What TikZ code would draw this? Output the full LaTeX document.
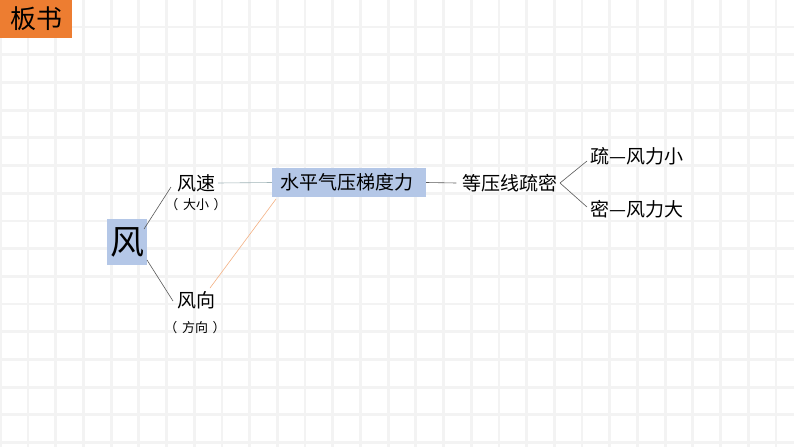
\documentclass[tikz,border=0pt]{standalone}
\usepackage{fontspec}
\usetikzlibrary{calc}
\setmainfont{Noto Sans CJK SC}
\definecolor{gridc}{HTML}{F3F3F3}
\definecolor{boxblue}{HTML}{B4C7E7}
\definecolor{orng}{HTML}{ED7D31}
\definecolor{lnk}{HTML}{595959}
\definecolor{lnkb}{HTML}{A0B4B8}
\definecolor{lnko}{HTML}{F4B183}
\tikzset{
  txt/.style={inner sep=0pt, font=\fontsize{19}{19}\selectfont},
  small/.style={inner sep=0pt, font=\fontsize{13}{13}\selectfont},
  bluebox/.style={fill=boxblue, inner sep=0pt},
  conn/.style={draw=lnk, line width=0.6pt},
}
\begin{document}
\begin{tikzpicture}[x=1pt,y=-1pt]
\fill[white] (0,0) rectangle (794,447);
\useasboundingbox (0,0) rectangle (794,447);
% grid
\foreach \k in {0,...,28} {\draw[gridc, line width=2.8pt] ({0.3+27.7*\k},0) -- ({0.3+27.7*\k},447);}
\foreach \k in {0,...,15} {\draw[gridc, line width=2.8pt] (0,{27+27.7*\k}) -- (794,{27+27.7*\k});}
% title
\node[fill=orng, minimum width=72pt, minimum height=38pt, inner sep=0pt, anchor=north west] (title) at (0,0) {};
\node[inner sep=0pt, font=\fontsize{26}{26}\selectfont] (titletxt) at (36,19) {板书};
% wind
\node[bluebox, minimum width=40pt, minimum height=46pt] (feng) at (127,242) {};
\node[inner sep=0pt, font=\fontsize{34}{34}\selectfont] (fengtxt) at (127,242) {风};
\node[txt] (fs) at (196,183) {风速};
\node[small] (fsd) at (196,205) {（\hspace{0.35em}大小\hspace{0.35em}）};
\node[txt] (fx) at (196,300) {风向};
\node[small] (fxd) at (195,328) {（\hspace{0.35em}方向\hspace{0.35em}）};
\node[bluebox, minimum width=154pt, minimum height=29pt] (sp) at (349,182.5) {};
\node[txt] (sptxt) at (347,182.5) {水平气压梯度力};
\node[txt] (dy) at (510,183) {等压线疏密};
\node[txt] (s1) at (637,156) {疏—风力小};
\node[txt] (s2) at (637,209) {密—风力大};
% connectors
\coordinate (fa) at (144,229);
\coordinate (fb) at (147,260);
\coordinate (fsl) at (171,187);
\coordinate (fxl) at (173,301);
\draw[conn] (fa) -- (fsl);
\draw[conn] (fb) -- (fxl);
\coordinate (fse) at ($(fs.east)+(3,0)$);
\draw[draw=lnkb, line width=0.6pt] (fse) -- (sp.west);
\coordinate (fxr) at (210,288);
\coordinate (spb) at (276,199);
\draw[draw=lnko, line width=0.6pt] (fxr) -- (spb);
\coordinate (dyl) at ($(dy.west)+(-6,0)$);
\draw[conn] (sp.east) -- (dyl);
\coordinate (dyr) at (560,183);
\coordinate (s1l) at (587,161);
\coordinate (s2l) at (587,207);
\draw[conn] (dyr) -- (s1l);
\draw[conn] (dyr) -- (s2l);
\end{tikzpicture}
\end{document}
